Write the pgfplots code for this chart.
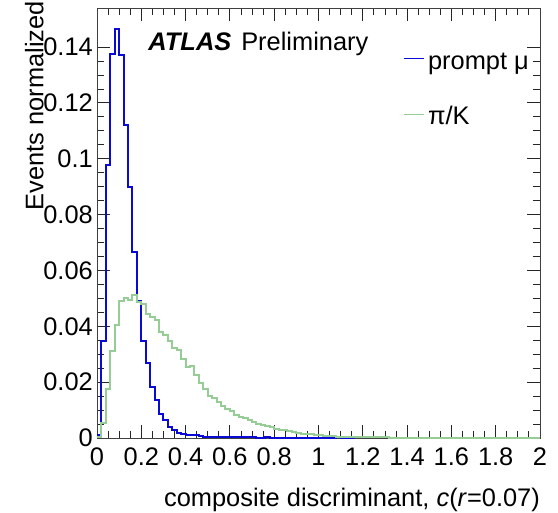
\documentclass[border=0pt]{standalone}
\usepackage{fontspec}
\setmainfont{Liberation Sans}
\usepackage{pgfplots}
\pgfplotsset{compat=1.18}
\definecolor{hblue}{RGB}{10,10,215}
\definecolor{hgreen}{RGB}{150,205,150}
\newcommand{\fs}{\fontsize{25.5}{30}\selectfont}
\begin{document}
\fs
\begin{tikzpicture}
\useasboundingbox (-97bp,-75bp) rectangle (461bp,438bp);
\begin{axis}[
  at={(0,0)}, anchor=south west,
  scale only axis, width=443bp, height=430bp,
  xmin=0, xmax=2, ymin=0, ymax=0.154,
  xtick={0,0.2,0.4,0.6,0.8,1,1.2,1.4,1.6,1.8,2},
  ytick={0,0.02,0.04,0.06,0.08,0.1,0.12,0.14},
  minor x tick num=3, minor y tick num=3,
  tick align=inside,
  major tick length=13bp, minor tick length=7bp,
  scaled ticks=false,
  /pgf/number format/assume math mode=true,
  /pgf/number format/fixed, /pgf/number format/precision=2,
  axis line style={black!75, line width=0.9bp},
  every tick/.style={black!85, line width=0.9bp},
  tick label style={font=\fs},
  xticklabel style={anchor=north, inner sep=0pt, yshift=-10bp},
  yticklabel style={anchor=east, inner sep=0pt, xshift=-4bp},
  xlabel={composite discriminant, \textit{c}(\textit{r}=0.07)},
  xlabel style={at={(axis description cs:1,0)}, anchor=base east, inner sep=0pt, yshift=-68bp, font=\fs},
  ylabel={Events normalized},
  ylabel style={at={(axis description cs:-0.1212,1.016)}, anchor=base east, inner sep=0pt, font=\fs},
  legend style={at={(axis description cs:0.6907,0.9)}, anchor=north west, draw=none, fill=none,
    inner sep=0pt, outer sep=0pt, row sep=37.7bp, column sep=4bp,
    nodes={inner sep=0pt, text height=18bp, text depth=0bp},
    font=\fs},
  legend cell align=left,
  legend image code/.code={\draw[#1, line width=1.1bp] (0bp,1.5bp) -- (20bp,1.5bp);},
]
\addplot[const plot mark left, hblue, line width=2bp] table {
x y
0.00 0.0012
0.02 0.0346
0.04 0.0977
0.06 0.1374
0.08 0.1466
0.10 0.1371
0.12 0.1120
0.14 0.0898
0.16 0.0665
0.18 0.0489
0.20 0.0346
0.22 0.0267
0.24 0.0183
0.26 0.0135
0.28 0.0086
0.30 0.0066
0.32 0.0040
0.34 0.0030
0.36 0.0019
0.38 0.0014
0.40 0.0010
0.42 0.0009
0.44 0.0009
0.46 0.0008
0.48 0.0004
0.50 0.0003
0.52 0.0003
0.54 0.0003
0.56 0.0003
0.58 0.0002
0.60 0.0002
0.62 0.0002
0.64 0.0002
0.66 0.0002
0.68 0.0002
0.70 0.0002
0.72 0.0001
0.74 0.0001
0.76 0.0002
0.78 0.0001
0.80 0.0001
0.82 0.0001
0.84 0.0001
0.86 0.0001
0.88 0.0001
0.90 0.0001
0.92 0.0001
0.94 0.0001
0.96 0.0001
0.98 0.0001
1.00 0.0001
1.02 0.0001
1.04 0.0001
1.06 0.0001
1.08 0.0002
1.10 0.0001
1.12 0.0001
1.14 0.0001
1.16 0.0000
};
\addlegendentry{prompt μ}
\addplot[const plot mark left, hgreen, line width=2bp] table {
x y
0.00 0.0005
0.02 0.0055
0.04 0.0177
0.06 0.0312
0.08 0.0406
0.10 0.0489
0.12 0.0500
0.14 0.0496
0.16 0.0513
0.18 0.0487
0.20 0.0481
0.22 0.0444
0.24 0.0432
0.26 0.0424
0.28 0.0380
0.30 0.0369
0.32 0.0347
0.34 0.0321
0.36 0.0316
0.38 0.0282
0.40 0.0256
0.42 0.0257
0.44 0.0225
0.46 0.0198
0.48 0.0177
0.50 0.0152
0.52 0.0145
0.54 0.0130
0.56 0.0115
0.58 0.0105
0.60 0.0097
0.62 0.0083
0.64 0.0075
0.66 0.0070
0.68 0.0066
0.70 0.0056
0.72 0.0050
0.74 0.0047
0.76 0.0043
0.78 0.0039
0.80 0.0033
0.82 0.0029
0.84 0.0028
0.86 0.0025
0.88 0.0022
0.90 0.0019
0.92 0.0016
0.94 0.0016
0.96 0.0013
0.98 0.0011
1.00 0.0010
1.02 0.0008
1.04 0.0007
1.06 0.0006
1.08 0.0005
1.10 0.0005
1.12 0.0005
1.14 0.0004
1.16 0.0004
1.18 0.0004
1.20 0.0003
1.22 0.0003
1.24 0.0003
1.26 0.0002
1.28 0.0002
1.30 0.0002
1.32 0.0001
1.34 0.0001
1.36 0.0001
1.38 0.0001
1.40 0.0001
1.42 0.0000
1.44 0.0000
1.46 0.0000
1.48 0.0000
1.50 0.0000
1.52 0.0000
1.54 0.0000
1.56 0.0000
1.58 0.0000
1.60 0.0000
1.62 0.0000
1.64 0.0000
1.66 0.0000
1.68 0.0000
1.70 0.0000
1.72 0.0000
1.74 0.0000
1.76 0.0000
1.78 0.0000
1.80 0.0000
1.82 0.0000
1.84 0.0000
1.86 0.0000
1.88 0.0000
1.90 0.0000
1.92 0.0000
1.94 0.0000
1.96 0.0000
1.98 0.0000
2.00 0.0000
};
\addlegendentry{π/K}
\node[anchor=base west, inner sep=0pt, font=\fs] at (axis description cs:0.1158,0.9023) {\textbf{\textit{ATLAS}}\hspace{10bp}Preliminary};
\end{axis}
\end{tikzpicture}
\end{document}
